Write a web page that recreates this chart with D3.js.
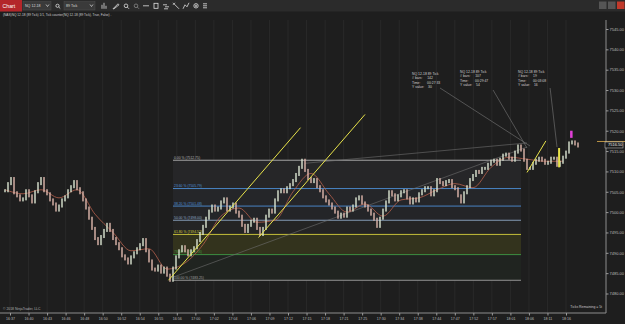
<!DOCTYPE html>
<html>
<head>
<meta charset="utf-8">
<script src="https://cdn.jsdelivr.net/npm/d3@7"></script>
<style>
  body { margin: 0; background: #1e1e1e; overflow: hidden; }
  svg { display: block; font-family: "Liberation Sans", Arial, sans-serif; }
</style>
</head>
<body>
<svg width="625" height="324"></svg>
<script>
// ---- data ----
const timeLabels = ["16:37","16:40","16:43","16:46","16:48","16:50","16:52","16:54","16:55","16:56",
  "17:00","17:02","17:04","17:06","17:09","17:12","17:15","17:18","17:21","17:25","17:30","17:34",
  "17:38","17:44","17:47","17:52","17:57","18:01","18:06","18:11","18:16"];

const priceTicks = [7545,7540,7535,7530,7525,7520,7515,7510,7505,7500,7495,7490,7485,7480];

// close of every bar (89 tick bars), left to right
const closes = [
  7505.25,7507.0,7508.25,7504.75,7504.0,7503.0,7503.25,7505.25,7504.0,7502.5,
  7505.0,7507.0,7508.25,7505.25,7504.5,7503.0,7502.0,7500.5,7501.5,7503.0,
  7503.75,7505.25,7506.25,7507.5,7505.75,7504.75,7503.0,7501.0,7498.5,7496.0,
  7493.5,7492.25,7494.0,7495.5,7497.0,7495.5,7493.5,7492.25,7491.0,7489.25,
  7488.5,7487.5,7489.0,7490.0,7491.0,7492.0,7493.25,7490.5,7488.0,7486.0,
  7485.75,7486.75,7485.25,7486.25,7484.5,7483.25,7486.25,7489.0,7490.5,7491.5,
  7490.5,7489.5,7490.5,7491.25,7493.0,7494.75,7496.5,7498.5,7500.25,7501.5,
  7500.5,7501.0,7502.5,7503.25,7500.5,7501.25,7502.0,7500.0,7499.0,7496.75,
  7495.25,7496.75,7497.75,7498.25,7496.0,7494.5,7496.0,7499.0,7500.5,7500.0,
  7503.0,7505.0,7505.5,7505.0,7506.0,7506.75,7507.75,7509.25,7511.0,7512.75,
  7510.25,7508.25,7507.5,7508.0,7506.25,7505.25,7503.75,7502.75,7502.0,7501.0,
  7500.0,7498.75,7499.5,7499.0,7501.0,7500.5,7501.5,7503.25,7503.75,7502.25,
  7501.5,7500.5,7499.5,7498.25,7496.5,7498.5,7500.5,7502.5,7505.0,7504.25,
  7503.0,7504.0,7505.0,7505.25,7503.5,7502.25,7503.25,7502.75,7504.5,7505.25,
  7506.0,7506.0,7504.25,7505.25,7508.0,7507.25,7506.75,7507.5,7507.75,7506.25,
  7505.75,7504.0,7502.5,7504.75,7506.25,7508.0,7509.0,7510.0,7509.75,7510.75,
  7510.75,7511.75,7512.5,7512.75,7511.75,7513.0,7514.0,7514.25,7513.25,7512.75,
  7514.75,7516.25,7515.25,7512.75,7510.75,7510.75,7512.0,7512.75,7513.25,7512.75,
  7512.0,7512.25,7513.25,7513.25,7511.5,7512.25,7513.5,7514.75,7517.0,7517.25,
  7516.75,7516.25
];

// moving average, one reading every 6 bars
const maStep = 6;
const maValues = [7505.5,7504.5,7505.5,7503.5,7505.5,7499.5,7495.0,7490.5,7491.0,7486.0,
  7487.5,7492.0,7499.0,7501.0,7497.5,7498.0,7505.0,7509.5,7504.5,7500.0,7502.0,7499.0,
  7503.0,7503.5,7505.5,7507.0,7506.0,7511.0,7513.5,7513.0,7512.5,7512.5];

// fibonacci retracement
const fibPercents = [0, 23.6, 38.2, 50, 61.8, 78.6, 100];
const fibPrices = [7512.75, 7505.79, 7501.48, 7498.00, 7494.52, 7489.56, 7483.25];
const fibColors = ["#b4b4b4", "#4d8fd6", "#4d8fd6", "#8fa7c4", "#d6cf3c", "#3f9a45", "#a0a0a0"];
const fibFills = ["#262628", "#252629", "#242528", "#242424", "#33331d", "#202420"];
const fibBars = [56, 172];

// drawn trend lines: [bar, price] pairs
const yellowLines = [
  [[54.5, 7483.25], [98.5, 7520.75]],
  [[84.5, 7493.75], [120, 7524.0]],
  [[174, 7509.75], [180.3, 7517.5]],
];
const grayLines = [
  [[56, 7484.0], [174, 7516.0]],
  [[100, 7512.0], [174, 7517.0]],
];

// tick counter notes
const notes = [
  { at: [135.7, 7534.5], to: [175, 7516.25], from: [145, 7530.5],
    rows: ["NQ 12-18 89 Tick", "# bars:     142", "Time:       00:27:33", "Y value:    30"] },
  { at: [151.7, 7535.0], to: [174, 7515.75], from: [162.7, 7530.0],
    rows: ["NQ 12-18 89 Tick", "# bars:     107", "Time:       00:29:47", "Y value:    54"] },
  { at: [171.0, 7535.0], to: [184, 7516.0], from: [181.7, 7530.5],
    rows: ["NQ 12-18 89 Tick", "# bars:     19", "Time:       00:03:08", "Y value:    16"] },
];

const lastPrice = 7516.50;

// ---- layout ----
const svg = d3.select("svg");
const width = +svg.attr("width");
const height = +svg.attr("height");
const plot = { top: 20, bottom: 313, right: 606 };

const x = d3.scaleLinear().domain([0, closes.length - 1]).range([5, 578]);
const y = d3.scaleLinear().domain([7480, 7545]).range([293.5, 29]);
const xTime = d3.scalePoint().domain(timeLabels).range([10, 566]);

svg.append("rect").attr("width", width).attr("height", height).attr("fill", "#1e1e1e");

// vertical grid
svg.append("g")
  .selectAll("line")
  .data(timeLabels)
  .join("line")
  .attr("x1", (d) => xTime(d)).attr("x2", (d) => xTime(d))
  .attr("y1", plot.top).attr("y2", plot.bottom)
  .attr("stroke", "#292929").attr("stroke-width", 1);

// fib bands + levels
const fibG = svg.append("g");
fibG.selectAll("rect")
  .data(fibFills)
  .join("rect")
  .attr("x", x(fibBars[0])).attr("width", x(fibBars[1]) - x(fibBars[0]))
  .attr("y", (d, i) => y(fibPrices[i]))
  .attr("height", (d, i) => y(fibPrices[i + 1]) - y(fibPrices[i]))
  .attr("fill", (d) => d);
fibG.selectAll("line")
  .data(fibPrices)
  .join("line")
  .attr("x1", x(fibBars[0])).attr("x2", x(fibBars[1]))
  .attr("y1", (d) => y(d)).attr("y2", (d) => y(d))
  .attr("stroke", (d, i) => fibColors[i]).attr("stroke-width", 0.9);
fibG.selectAll("text")
  .data(fibPrices)
  .join("text")
  .attr("x", x(fibBars[0]) + 1).attr("y", (d) => y(d) - 1.5)
  .attr("font-size", 3.4).attr("fill", (d, i) => fibColors[i])
  .text((d, i) => `${fibPercents[i].toFixed(2)} % (${d.toFixed(2)})`);

// gray trend lines
svg.append("g")
  .selectAll("line")
  .data(grayLines)
  .join("line")
  .attr("x1", (d) => x(d[0][0])).attr("y1", (d) => y(d[0][1]))
  .attr("x2", (d) => x(d[1][0])).attr("y2", (d) => y(d[1][1]))
  .attr("stroke", "#6e6e6e").attr("stroke-width", 0.6);

// moving average
const maLine = d3.line().x((d, i) => x(i * maStep)).y((d) => y(d)).curve(d3.curveMonotoneX);
svg.append("path")
  .attr("d", maLine(maValues))
  .attr("fill", "none").attr("stroke", "#b8614c").attr("stroke-width", 0.8);

// bars: open is previous close
svg.append("g")
  .selectAll("rect")
  .data(closes)
  .join("rect")
  .attr("x", (d, i) => x(i) - 0.7)
  .attr("width", 1.4)
  .attr("y", (d, i) => y(Math.max(d, i ? closes[i - 1] : d)) - 1.5)
  .attr("height", (d, i) => Math.abs(y(d) - y(i ? closes[i - 1] : d)) + 3)
  .attr("fill", (d, i) => (i && d < closes[i - 1] ? "#e0b8ad" : "#dce6d2"));

// yellow channel lines
svg.append("g")
  .selectAll("line")
  .data(yellowLines)
  .join("line")
  .attr("x1", (d) => x(d[0][0])).attr("y1", (d) => y(d[0][1]))
  .attr("x2", (d) => x(d[1][0])).attr("y2", (d) => y(d[1][1]))
  .attr("stroke", "#e8e34a").attr("stroke-width", 1);

// markers near the right edge
svg.append("rect")
  .attr("x", x(184.7) - 1).attr("width", 2)
  .attr("y", y(7515.75)).attr("height", y(7511) - y(7515.75))
  .attr("fill", "#e8e34a");
svg.append("rect")
  .attr("x", x(188.7) - 1).attr("width", 2.5)
  .attr("y", y(7520)).attr("height", y(7518.25) - y(7520))
  .attr("fill", "#e040d8");

// notes
const noteG = svg.append("g").selectAll("g").data(notes).join("g");
noteG.append("line")
  .attr("x1", (d) => x(d.from[0])).attr("y1", (d) => y(d.from[1]))
  .attr("x2", (d) => x(d.to[0])).attr("y2", (d) => y(d.to[1]))
  .attr("stroke", "#8a8a8a").attr("stroke-width", 0.5);
noteG.each(function (d) {
  d3.select(this).selectAll("text")
    .data(d.rows)
    .join("text")
    .attr("x", x(d.at[0]))
    .attr("y", (r, i) => y(d.at[1]) + 3.5 + i * 4.2)
    .attr("font-size", 3.4).attr("fill", "#d0d0d0")
    .attr("xml:space", "preserve")
    .text((r) => r);
});

// right price axis
svg.append("line")
  .attr("x1", plot.right).attr("x2", plot.right).attr("y1", plot.top).attr("y2", plot.bottom)
  .attr("stroke", "#8c8c8c");
const yAxisG = svg.append("g")
  .attr("transform", `translate(${plot.right},0)`)
  .call(d3.axisRight(y).tickValues(priceTicks).tickSize(2.5).tickPadding(1).tickFormat(d3.format(".2f")));
yAxisG.select(".domain").remove();
yAxisG.selectAll("line").attr("stroke", "#9a9a9a");
yAxisG.selectAll("text").attr("font-size", 4).attr("fill", "#bdbdbd").attr("font-family", "Liberation Sans");

// last price marker
svg.append("line")
  .attr("x1", 597).attr("x2", width).attr("y1", y(lastPrice) - 3.5).attr("y2", y(lastPrice) - 3.5)
  .attr("stroke", "#e6b450").attr("stroke-width", 0.8);
svg.append("rect")
  .attr("x", plot.right - 1).attr("y", y(lastPrice) - 3).attr("width", 18).attr("height", 6)
  .attr("fill", "#1a1a1a").attr("stroke", "#cfcfcf").attr("stroke-width", 0.5);
svg.append("text")
  .attr("x", plot.right + 2).attr("y", y(lastPrice) + 1.4)
  .attr("font-size", 4).attr("fill", "#f0f0f0").text(lastPrice.toFixed(2));

// bottom time axis
svg.append("line")
  .attr("x1", 0).attr("x2", plot.right).attr("y1", plot.bottom).attr("y2", plot.bottom)
  .attr("stroke", "#8c8c8c");
const xAxisG = svg.append("g")
  .attr("transform", `translate(0,${plot.bottom})`)
  .call(d3.axisBottom(xTime).tickSize(2.5).tickPadding(1.5));
xAxisG.select(".domain").remove();
xAxisG.selectAll("line").attr("stroke", "#9a9a9a");
xAxisG.selectAll("text").attr("font-size", 3.6).attr("fill", "#bdbdbd").attr("font-family", "Liberation Sans");

// footer texts
svg.append("text").attr("x", 3).attr("y", 310).attr("font-size", 3.4).attr("fill", "#b0b0b0")
  .text("© 2018 NinjaTrader, LLC");
svg.append("text").attr("x", 602).attr("y", 308).attr("text-anchor", "end")
  .attr("font-size", 3.4).attr("fill", "#c8c8c8").text("Ticks Remaining = 5t");

// header line
svg.append("text").attr("x", 3).attr("y", 15.5).attr("font-size", 3.2).attr("fill", "#cfcfcf")
  .text("(NAS)NQ 12-18 (89 Tick) 1/1, Tick counter(NQ 12-18 (89 Tick), True, False) .");

// toolbar
const bar = svg.append("g");
bar.append("rect").attr("width", width).attr("height", 11.5).attr("fill", "#2b2b2b");
bar.append("rect").attr("width", 22).attr("height", 11.5).attr("fill", "#b3262a");
bar.append("text").attr("x", 2.5).attr("y", 8).attr("font-size", 5.2).attr("fill", "#fff").text("Chart");
[[23, 28, "NQ 12-18"], [64, 31, "89 Tick"]].forEach(([bx, bw, label]) => {
  bar.append("rect").attr("x", bx).attr("y", 1.5).attr("width", bw).attr("height", 8.5)
    .attr("fill", "#3a3a3a").attr("stroke", "#555").attr("stroke-width", 0.4);
  bar.append("text").attr("x", bx + 2).attr("y", 7.3).attr("font-size", 3.6).attr("fill", "#ddd").text(label);
  bar.append("path").attr("d", `M${bx + bw - 5},4.5 l1.5,2 l1.5,-2`).attr("fill", "none")
    .attr("stroke", "#ddd").attr("stroke-width", 0.7);
});
const icon = (cx) => bar.append("g").attr("transform", `translate(${cx},5.8)`)
  .attr("stroke", "#e0e0e0").attr("fill", "none").attr("stroke-width", 0.8);
icon(57.5).call((g) => { g.append("circle").attr("r", 1.6); g.append("line").attr("x1", 1.2).attr("y1", 1.2).attr("x2", 2.8).attr("y2", 2.8); });
icon(104).call((g) => { g.append("path").attr("d", "M-2,3V-1M0,3V-3M2,3V0"); });
icon(116).call((g) => { g.append("path").attr("d", "M-3,3L2,-2L3,-1L-2,3Z"); });
icon(126).call((g) => { g.append("circle").attr("r", 1.8); g.append("line").attr("x1", 1.3).attr("y1", 1.3).attr("x2", 3).attr("y2", 3); });
icon(136).call((g) => { g.append("circle").attr("r", 1.8).attr("stroke", "#888"); g.append("line").attr("x1", 1.3).attr("y1", 1.3).attr("x2", 3).attr("y2", 3).attr("stroke", "#888"); });
icon(146).call((g) => { g.append("line").attr("x1", -3).attr("x2", 3); });
icon(156).call((g) => { g.append("rect").attr("x", -2).attr("y", -2.5).attr("width", 4).attr("height", 5); });
icon(166).call((g) => { g.append("path").attr("d", "M-3,-1H1M-1,1H3M-2,3H2"); });
icon(176).call((g) => { g.append("path").attr("d", "M-3,-3L3,3M-3,-1L-1,-3"); });
icon(186).call((g) => { g.append("path").attr("d", "M-3,3L-1,-1L1,1L3,-3"); });
icon(196).call((g) => { g.append("circle").attr("r", 2.2); g.append("circle").attr("r", 0.8); });
icon(205).call((g) => { g.append("path").attr("d", "M-2,-2H2M-2,0H2M-2,2H2"); });
[[599, "#555"], [608, "#555"], [617, "#c0392b"]].forEach(([bx, c]) => {
  bar.append("rect").attr("x", bx).attr("y", 1.5).attr("width", 7.5).attr("height", 7.5).attr("fill", c);
});
</script>
</body>
</html>
